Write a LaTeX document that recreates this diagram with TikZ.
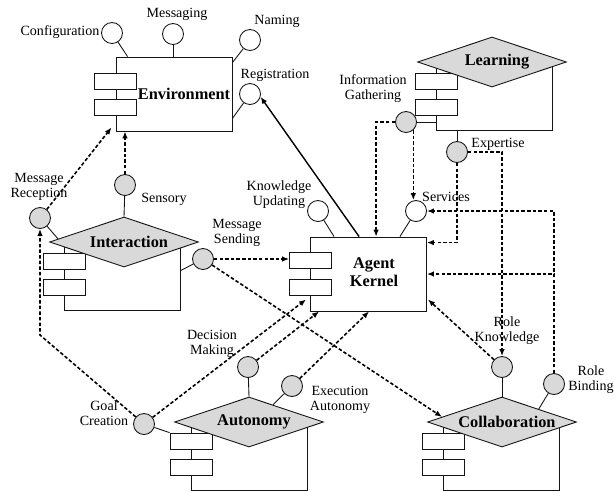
\documentclass[tikz,border=0pt]{standalone}
\usepackage{fontspec}
\setmainfont{Liberation Serif}
\usetikzlibrary{arrows.meta,positioning,shapes.geometric,calc}
\definecolor{shade}{RGB}{217,217,217}
\definecolor{ink}{RGB}{20,20,20}
\tikzset{
  >={Latex[length=4pt,width=3.2pt]},
  box/.style={draw=ink,fill=white,line width=0.5pt,inner sep=0pt,minimum width=2.32cm},
  port/.style={draw=ink,fill=white,line width=0.5pt,inner sep=0pt,
    minimum width=0.84cm,minimum height=0.32cm},
  role/.style={diamond,draw=ink,fill=shade,line width=0.5pt,inner sep=0pt,
    minimum width=2.98cm,minimum height=1cm},
  lolly/.style={circle,draw=ink,fill=#1,line width=0.5pt,inner sep=0pt,minimum size=0.42cm},
  lolly/.default=white,
  stem/.style={draw=ink,line width=0.5pt},
  dep/.style={->,line width=0.9pt,dash pattern=on 2pt off 1.2pt},
  tag/.style={font=\fontsize{8}{8.6}\selectfont,align=center,inner sep=0pt},
  title/.style={font=\fontsize{9.3}{10.3}\selectfont\bfseries,align=center,inner sep=0pt},
}

\begin{document}
\begin{tikzpicture}[x=0.02cm,y=-0.02cm]
  \useasboundingbox (0,0) rectangle (614,491);
  % components
  \node[box,minimum height=1.48cm] (env) at (174,94) {};
  \node[box,minimum height=1.48cm] (kernel) at (368.5,274) {};
  \foreach \n/\y in {1/81,2/107.5} \node[port] (env-p\n) at (115,\y) {};
  \foreach \n/\y in {1/260,2/287} \node[port] (kernel-p\n) at (310.5,\y) {};
  \node[title] (env-t) at (184,94) {Environment};
  \node[title] (kernel-t) at (374,272) {Agent\\Kernel};
  \foreach \n/\txt/\x/\y/\lx in {inter/Interaction/124/242/64,learn/Learning/492/62/436,
      auto/Autonomy/249/422/191,collab/Collaboration/502/422/443}{
    \node[box,minimum height=1.36cm,anchor=north west] (\n-body) at (\lx,\y) {};
    \node[port] (\n-p1) at (\lx,\y+19) {};
    \node[port] (\n-p2) at (\lx,\y+45) {};
    \node[role] (\n) at (\x,\y) {};
    \node[title] (\n-t) at (\x+5,\y) {\txt};
  }
  % interfaces
  \foreach \n/\x/\y/\col in {cfg/112/33/white,msgg/173/34/white,nam/250/40/white,
      reg/250/94/white,sens/125/185/shade,mrec/40/218/shade,msend/203/259/shade,
      kupd/318/211/white,serv/416/211/white,info/406/122/shade,expt/457/152/shade,
      dec/248/367/shade,exec/292/386/shade,goal/144/424/shade,rknow/502/367/shade,
      rbind/554/384/shade}
    \node[lolly=\col] (\n) at (\x,\y) {};
  \foreach \n/\x/\y/\txt in {cfg/60/32/Configuration,msgg/177/14/Messaging,
      nam/277/21/Naming,reg/275/75/Registration,sens/164/199/Sensory,
      mrec/39/187/{Message\\Reception},msend/237/233/{Message\\Sending},
      kupd/279/195/{Knowledge\\Updating},serv/446/197/Services,
      info/373/89/{Information\\Gathering},expt/498/144/Expertise,
      dec/212/344/{Decision\\Making},exec/340/400/{Execution\\Autonomy},
      goal/104/413/{Goal\\Creation},rknow/507/331/{Role\\Knowledge},
      rbind/591/380/{Role\\Binding}}
    \node[tag] (\n-t) at (\x,\y) {\txt};
  \draw[stem] (cfg) -- ($(env.north west)+(12,0)$);
  \draw[stem] (msgg) -- (msgg |- env.north);
  \draw[stem] (nam) -- ($(env.north east)+(0,6)$);
  \draw[stem] (reg) -- ($(env.south east)+(0,-13)$);
  \draw[stem] (sens) -- (inter.north);
  \draw[stem] (mrec) -- ($(inter.west)!0.12!(inter.north)$);
  \draw[stem] (msend) -- ($(inter-body.east)+(0,-6)$);
  \draw[stem] (kupd) -- ($(kernel.north west)+(24,0)$);
  \draw[stem] (serv) -- ($(kernel.north east)+(-27,0)$);
  \draw[stem] (info) -- (info -| learn-body.west);
  \draw[stem] (expt) -- (expt |- learn-body.south);
  \draw[stem] (dec) -- (auto.north);
  \draw[stem] (exec) -- ($(auto.north)!0.32!(auto.east)$);
  \draw[stem] (goal) -- (auto-p1.north west);
  \draw[stem] (rknow) -- (collab.north);
  \draw[stem] (rbind) -- ($(collab.north)!0.49!(collab.east)$);
  % dependencies
  \coordinate (bend) at (40,335);
  \draw[dep] (sens) -- (sens |- env.south);
  \draw[dep] (mrec) -- ($(env.south west)+(-4,-4)$);
  \draw[dep] (goal) -- (bend) -- (mrec);
  \draw[dep] (goal) -- ($(kernel.south west)+(-4,-12)$);
  \draw[dep] (dec) -- ($(kernel.south west)+(9,0)$);
  \draw[dep] (exec) -- ($(kernel.south west)+(59,0)$);
  \draw[dep] (msend) -- (msend -| kernel-p1.west);
  \draw[dep] (msend) -- ($(collab.west)!0.2!(collab.north)$);
  \draw[dep] (rknow) -- ($(kernel.south east)+(1,-12)$);
  \draw[dep] (expt) -| (rknow);
  \draw[dep] (expt) |- ($(kernel.north east)+(0,6)$);
  \draw[dep] (info) -| ($(kernel.north west)+(66,0)$);
  \draw[dep] (info.-48) -- (info.-48 |- serv.north);
  \draw[dep] (rbind) |- (serv);
  \draw[dep] (rbind) |- (kernel.east);
  \draw[->,line width=0.8pt] ($(kernel.north west)+(49,0)$) -- (reg.-15);
\end{tikzpicture}
\end{document}
